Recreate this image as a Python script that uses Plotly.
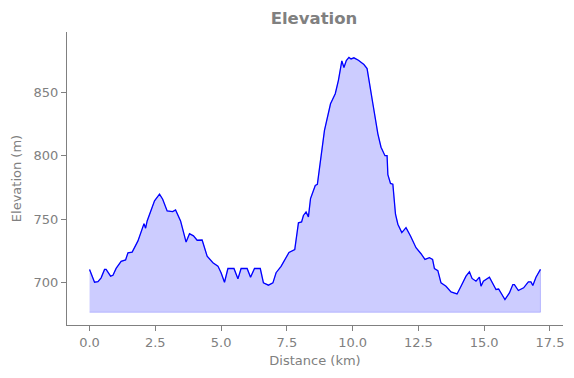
import plotly.graph_objects as go

distance_km = [0.00, 0.19, 0.32, 0.44, 0.57, 0.63, 0.80, 0.89, 1.01, 1.20, 1.37, 1.46, 1.62, 1.84,
               2.07, 2.13, 2.19, 2.47, 2.66, 2.78, 2.95, 3.16, 3.27, 3.46, 3.67, 3.80, 3.95, 4.09,
               4.28, 4.47, 4.69, 4.88, 5.00, 5.13, 5.26, 5.49, 5.64, 5.76, 5.99, 6.12, 6.27, 6.49,
               6.61, 6.80, 6.97, 7.09, 7.28, 7.58, 7.80, 7.94, 8.06, 8.13, 8.23, 8.32, 8.40, 8.58,
               8.66, 8.80, 8.93, 9.16, 9.34, 9.46, 9.59, 9.67, 9.76, 9.86, 9.94, 10.05, 10.22,
               10.43, 10.55, 10.77, 10.96, 11.08, 11.23, 11.31, 11.34, 11.44, 11.53, 11.63, 11.72,
               11.87, 12.03, 12.20, 12.41, 12.60, 12.75, 12.92, 13.04, 13.11, 13.24, 13.36, 13.55,
               13.74, 13.97, 14.12, 14.31, 14.44, 14.54, 14.69, 14.82, 14.88, 14.97, 15.20, 15.33,
               15.45, 15.55, 15.79, 15.96, 16.09, 16.15, 16.30, 16.50, 16.68, 16.78, 16.85, 16.97,
               17.14]
elevation_m = [710.6, 700.5, 701.0, 704.0, 710.6, 710.6, 705.3, 706.0, 711.4, 717.0, 718.0, 723.7,
               724.2, 733.0, 746.6, 743.0, 748.7, 764.5, 769.8, 765.8, 756.6, 756.0, 757.4, 748.7,
               732.1, 738.7, 737.0, 733.5, 733.7, 721.0, 715.8, 713.2, 707.9, 700.5, 711.3, 711.3,
               703.2, 711.3, 711.3, 704.5, 711.3, 711.3, 700.0, 698.2, 700.0, 708.0, 713.0, 723.9,
               726.1, 747.2, 747.9, 753.0, 755.8, 751.9, 766.3, 776.6, 777.4, 800.8, 819.8, 840.8,
               848.7, 859.2, 874.5, 869.3, 874.8, 877.2, 876.0, 876.9, 875.0, 871.6, 868.4, 840.8,
               817.2, 806.6, 800.0, 800.0, 785.0, 778.2, 777.6, 754.0, 746.1, 739.5, 743.4, 736.9,
               727.6, 722.9, 718.5, 719.8, 718.5, 711.3, 709.6, 700.0, 697.4, 692.9, 691.3, 697.4,
               705.3, 708.7, 703.5, 701.3, 704.5, 697.4, 701.3, 704.5, 700.0, 694.8, 695.2, 686.9,
               692.1, 698.7, 698.7, 694.0, 696.1, 700.8, 700.8, 698.0, 704.5, 710.6]
x_ticks = [0.0, 2.5, 5.0, 7.5, 10.0, 12.5, 15.0, 17.5]
y_ticks = [700, 750, 800, 850]

e_min, e_max = min(elevation_m), max(elevation_m)
base = e_min - 10
d_max = distance_km[-1]
pad = 0.05 * d_max

gray = "#808080"
W, H = 574, 378
# page body has an 8px default margin; compensate so the plot lands where the reference has it
off = 8
L, R, T, B = 67 - off, W - (563 - off), 32 - off, H - (325 - off)

fig = go.Figure()
fig.add_trace(go.Scatter(
    x=distance_km + [distance_km[-1], distance_km[0]],
    y=elevation_m + [base, base],
    fill="toself", fillcolor="rgba(0,0,255,0.2)",
    line=dict(color="rgba(0,0,255,0.2)", width=1),
    mode="lines", hoverinfo="skip", showlegend=False))
fig.add_trace(go.Scatter(
    x=distance_km, y=elevation_m, mode="lines",
    line=dict(color="#0000ff", width=1.3), showlegend=False))

fig.update_layout(
    width=W, height=H,
    margin=dict(l=L, r=R, t=T, b=B, autoexpand=False),
    paper_bgcolor="white", plot_bgcolor="white",
    font=dict(family="DejaVu Sans", color=gray, size=13),
    title=dict(text="<b>Elevation</b>", x=(314 - off) / W, xanchor="center",
               y=1 - (18 - off) / H, yanchor="middle",
               font=dict(size=16.5, color=gray, family="DejaVu Sans")),
)
fig.update_xaxes(
    range=[-pad, d_max + pad], tickvals=x_ticks, tickformat=".1f", automargin=False,
    showgrid=False, zeroline=False, showline=True, linecolor=gray, linewidth=1,
    ticks="outside", ticklen=5, tickcolor=gray, tickfont=dict(size=13, color=gray),
    title=dict(text="Distance (km)", font=dict(size=13, color=gray), standoff=7))
fig.update_yaxes(
    range=[e_min - 20, e_max + 20], tickvals=y_ticks, automargin=False,
    showgrid=False, zeroline=False, showline=True, linecolor=gray, linewidth=1,
    ticks="outside", ticklen=5, tickcolor=gray, tickfont=dict(size=13, color=gray),
    title=dict(text="Elevation (m)", font=dict(size=13, color=gray), standoff=9))

fig.write_html("out.html")
